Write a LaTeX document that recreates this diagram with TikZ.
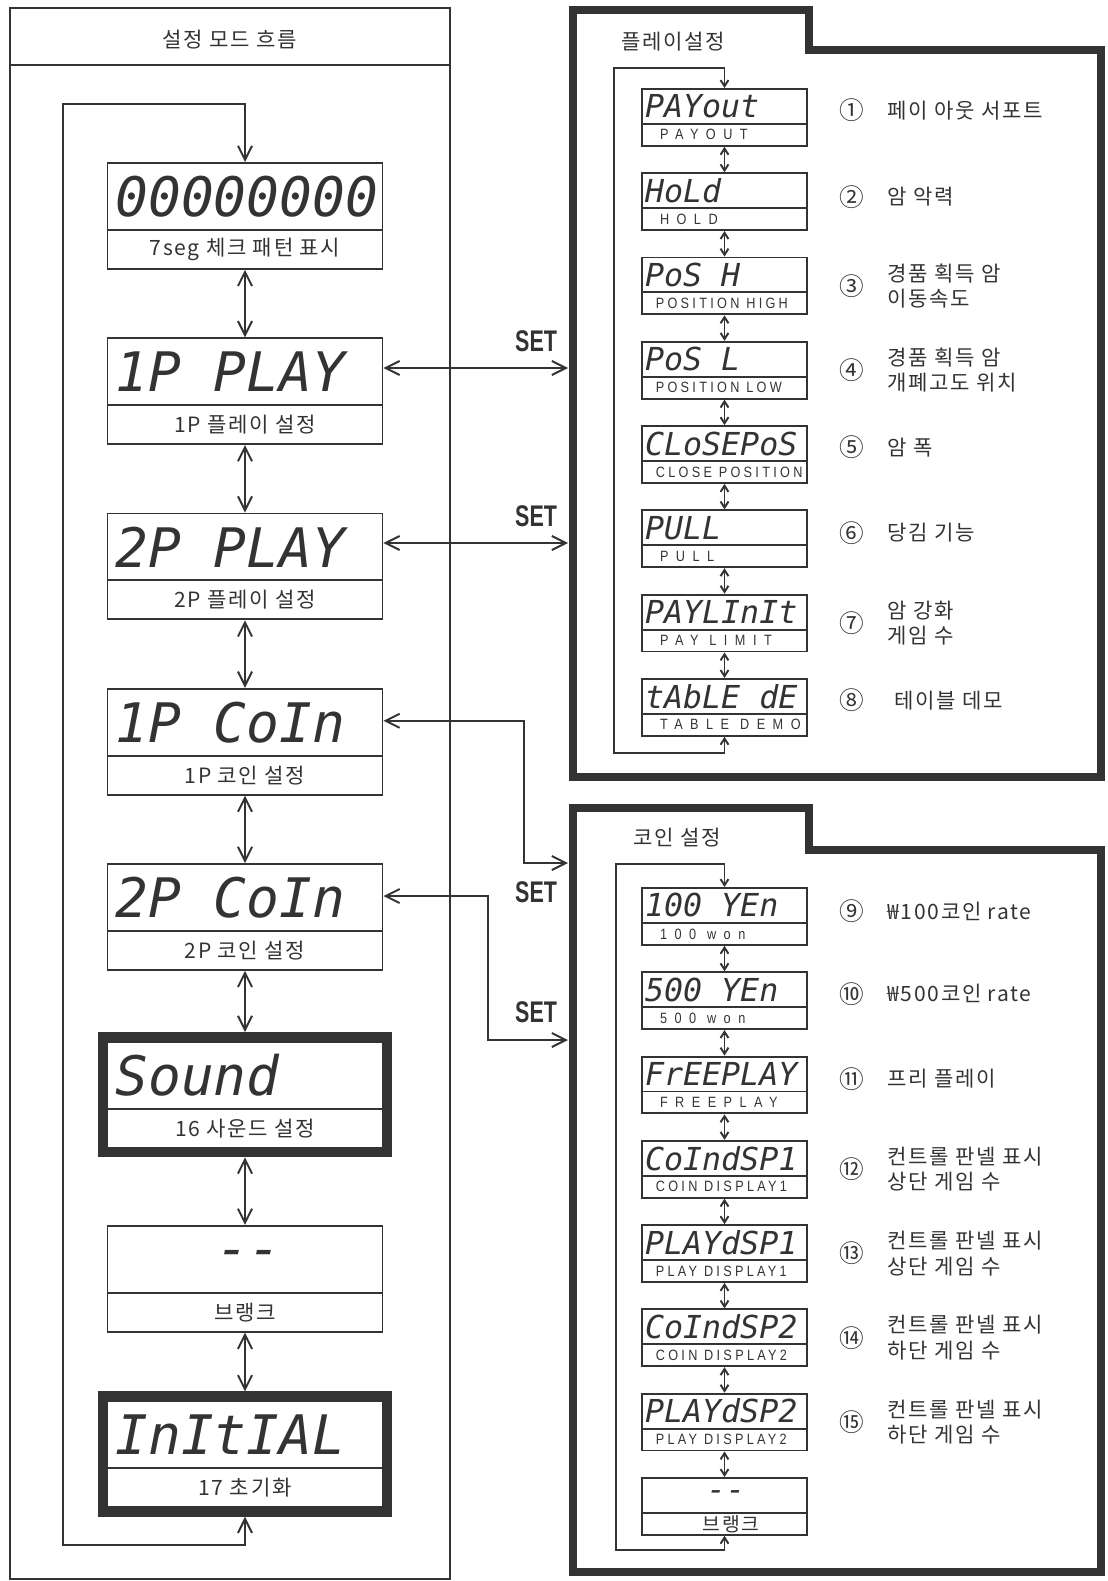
\documentclass[tikz,border=0pt]{standalone}
\usepackage{fontspec}
\usepackage{tikz}
\usetikzlibrary{arrows.meta}
\usetikzlibrary{positioning}
\usetikzlibrary{shapes.multipart}
\usetikzlibrary{fit}
\newfontfamily\kr[LetterSpace=8]{Noto Sans CJK KR}
\newfontfamily\segfont{DejaVu Sans Mono}
\newfontfamily\capfont[LetterSpace=22,FakeStretch=0.85]{Liberation Sans}
\newfontfamily\capwide[LetterSpace=50,FakeStretch=0.85]{Liberation Sans}
\newfontfamily\setfont[FakeStretch=0.72]{Liberation Sans}
\definecolor{ink}{gray}{0.2}
% display parts: big and small
\newcommand\lcd[1]{\parbox[c][1.30cm][c]{5.5cm}{\hspace*{0.16cm}\segfont\itshape\fontsize{31}{31}\selectfont #1}}
\newcommand\lbl[1]{\parbox[c][0.74cm][c]{5.5cm}{\centering\kr\fontsize{12}{14}\selectfont #1}}
\newcommand\slcd[1]{\parbox[c][0.66cm][c]{3.3cm}{\hspace*{0.06cm}\segfont\itshape\fontsize{18}{18}\selectfont #1}}
\newcommand\slbl[2][\capfont]{\parbox[c][0.40cm][c]{3.3cm}{\hspace*{0.14cm}\fontsize{8.5}{9}\selectfont#1 #2}}
\tikzset{
  every picture/.style={font={\kr\fontsize{12}{14.5}\selectfont}, color=ink, line width=1.1pt,
    >={Straight Barb[length=8pt,width=8pt]}}}

\begin{document}
\begin{tikzpicture}[x=0.02cm, y=-0.02cm, node distance=1.35cm,
    disp/.style={draw, rectangle split, rectangle split parts=2, inner sep=0pt},
    hot/.style={draw, line width=5pt, inner sep=2.5pt},
    panel/.style={draw, line width=4.5pt, line join=miter},
    num/.style={inner sep=0pt, font=\kr\fontsize{14}{14}\selectfont},
    note/.style={inner sep=0pt, align=left},
    setlbl/.style={inner sep=0pt, font=\setfont\bfseries\fontsize{17}{17}\selectfont}]

    \useasboundingbox (0,0) rectangle (1107,1581);

    % main flow
    \draw (10,8) rectangle (450,1579);
    \draw (10,65) -- (450,65);
    \node (mode) at (230,40) {설정 모드 흐름};

    \node[disp, anchor=north] (chk) at (245,162) {\lcd{00000000}\nodepart{two}\lbl{7seg 체크 패턴 표시}};
    \node[disp, below=of chk] (p1play) {\lcd{1P PLAY}\nodepart{two}\lbl{1P 플레이 설정}};
    \node[disp, below=of p1play] (p2play) {\lcd{2P PLAY}\nodepart{two}\lbl{2P 플레이 설정}};
    \node[disp, below=of p2play] (p1coin) {\lcd{1P CoIn}\nodepart{two}\lbl{1P 코인 설정}};
    \node[disp, below=of p1coin] (p2coin) {\lcd{2P CoIn}\nodepart{two}\lbl{2P 코인 설정}};
    \node[disp, below=1.4cm of p2coin] (sndbox) {\lcd{Sound}\nodepart{two}\lbl{16 사운드 설정}};
    \node[hot, fit=(sndbox)] (snd) {};
    \node[disp, below=of snd] (blank) {\lcd{\hfill-{}-\hfill\mbox{}}\nodepart{two}\lbl{브랭크}};
    \node[disp, below=of blank] (initbox) {\lcd{InItIAL}\nodepart{two}\lbl{17 초기화}};
    \node[hot, fit=(initbox)] (init) {};

    \path[<->] (chk) edge (p1play);
    \path[<->] (p1play) edge (p2play);
    \path[<->] (p2play) edge (p1coin);
    \path[<->] (p1coin) edge (p2coin);
    \path[<->] (p2coin) edge (snd);
    \path[<->] (snd) edge (blank);
    \path[<->] (blank) edge (init);

    \coordinate (mainT) at (63,104);
    \coordinate (mainB) at (63,1545);
    \draw[<->] (init.south) |- (mainB) -- (mainT) -| (chk.north);

    % SET links
    \coordinate (set1) at (568,368);
    \coordinate (set2) at (568,543);
    \coordinate (set3) at (568,863);
    \coordinate (set4) at (568,1040);
    \coordinate (c1bend) at (524,863);
    \coordinate (c2bend) at (488,1040);
    \draw[<->] (p1play.east |- set1) -- (set1);
    \draw[<->] (p2play.east |- set2) -- (set2);
    \draw[<->] ([yshift=-0.66cm]p1coin.north east) -| (c1bend) -- (set3);
    \draw[<->] ([yshift=-0.66cm]p2coin.north east) -| (c2bend) -- (set4);
    \node[setlbl, above left=0.3cm and 0.2cm of set1] (s1) {SET};
    \node[setlbl, above left=0.3cm and 0.2cm of set2] (s2) {SET};
    \node[setlbl, below left=0.36cm and 0.2cm of set3] (s3) {SET};
    \node[setlbl, above left=0.32cm and 0.2cm of set4] (s4) {SET};

    % play settings
    \draw[panel] (573,10) -- (809,10) -- (809,50) -- (1101,50) -- (1101,777) -- (573,777) -- cycle;
    \node (playttl) at (673,42) {플레이설정};

    \begin{scope}[node distance=0.51cm, >={Straight Barb[length=3.5pt,width=4.5pt]}]
      \node[disp, anchor=north] (payout) at (724.5,88) {\slcd{PAYout}\nodepart{two}\slbl[\capwide]{PAYOUT}};
      \node[disp, below=of payout] (hold) {\slcd{HoLd}\nodepart{two}\slbl[\capwide]{HOLD}};
      \node[disp, below=of hold] (posh) {\slcd{PoS H}\nodepart{two}\slbl{POSITION HIGH}};
      \node[disp, below=of posh] (posl) {\slcd{PoS L}\nodepart{two}\slbl{POSITION LOW}};
      \node[disp, below=of posl] (closepos) {\slcd{CLoSEPoS}\nodepart{two}\slbl{CLOSE POSITION}};
      \node[disp, below=of closepos] (pull) {\slcd{PULL}\nodepart{two}\slbl[\capwide]{PULL}};
      \node[disp, below=of pull] (paylimit) {\slcd{PAYLInIt}\nodepart{two}\slbl[\capwide]{PAY LIMIT}};
      \node[disp, below=of paylimit] (tabledemo) {\slcd{tAbLE dE}\nodepart{two}\slbl[\capwide]{TABLE DEMO}};

      \path[<->] (payout) edge (hold);
      \path[<->] (hold) edge (posh);
      \path[<->] (posh) edge (posl);
      \path[<->] (posl) edge (closepos);
      \path[<->] (closepos) edge (pull);
      \path[<->] (pull) edge (paylimit);
      \path[<->] (paylimit) edge (tabledemo);

      \coordinate (playT) at (614,68);
      \coordinate (playB) at (614,753);
      \draw[<->] (tabledemo.south) |- (playB) -- (playT) -| (payout.north);
    \end{scope}

    \node[num, right=0.62cm of payout.east, yshift=0.14cm] (n1) {①};
    \node[note, right=0.42cm of n1] (t1) {페이 아웃 서포트};
    \node[num, right=0.62cm of hold.east, yshift=0.1cm] (n2) {②};
    \node[note, right=0.42cm of n2] (t2) {암 악력};
    \node[num, right=0.62cm of posh.east] (n3) {③};
    \node[note, right=0.42cm of n3] (t3) {경품 획득 암\\이동속도};
    \node[num, right=0.62cm of posl.east] (n4) {④};
    \node[note, right=0.42cm of n4] (t4) {경품 획득 암\\개폐고도 위치};
    \node[num, right=0.62cm of closepos.east, yshift=0.14cm] (n5) {⑤};
    \node[note, right=0.42cm of n5] (t5) {암 폭};
    \node[num, right=0.62cm of pull.east, yshift=0.12cm] (n6) {⑥};
    \node[note, right=0.42cm of n6] (t6) {당김 기능};
    \node[num, right=0.62cm of paylimit.east] (n7) {⑦};
    \node[note, right=0.42cm of n7] (t7) {암 강화\\게임 수};
    \node[num, right=0.62cm of tabledemo.east, yshift=0.14cm] (n8) {⑧};
    \node[note, right=0.56cm of n8] (t8) {테이블 데모};

    % coin settings
    \draw[panel] (573,808) -- (809,808) -- (809,850) -- (1101,850) -- (1101,1572) -- (573,1572) -- cycle;
    \node (cointtl) at (677,838) {코인 설정};

    \begin{scope}[node distance=0.51cm, >={Straight Barb[length=3.5pt,width=4.5pt]}]
      \node[disp, anchor=north] (yen1) at (724.5,887) {\slcd{100 YEn}\nodepart{two}\slbl[\capwide]{100 won}};
      \node[disp, below=of yen1] (yen5) {\slcd{500 YEn}\nodepart{two}\slbl[\capwide]{500 won}};
      \node[disp, below=of yen5] (freeplay) {\slcd{FrEEPLAY}\nodepart{two}\slbl[\capwide]{FREEPLAY}};
      \node[disp, below=of freeplay] (coindsp1) {\slcd{CoIndSP1}\nodepart{two}\slbl{COIN DISPLAY1}};
      \node[disp, below=of coindsp1] (playdsp1) {\slcd{PLAYdSP1}\nodepart{two}\slbl{PLAY DISPLAY1}};
      \node[disp, below=of playdsp1] (coindsp2) {\slcd{CoIndSP2}\nodepart{two}\slbl{COIN DISPLAY2}};
      \node[disp, below=of coindsp2] (playdsp2) {\slcd{PLAYdSP2}\nodepart{two}\slbl{PLAY DISPLAY2}};
      \node[disp, below=of playdsp2] (coinblank) {\slcd{\hfill-{}-\hfill\mbox{}}\nodepart{two}\slbl[\kr\fontsize{11}{11}\selectfont\centering]{브랭크}};

      \path[<->] (yen1) edge (yen5);
      \path[<->] (yen5) edge (freeplay);
      \path[<->] (freeplay) edge (coindsp1);
      \path[<->] (coindsp1) edge (playdsp1);
      \path[<->] (playdsp1) edge (coindsp2);
      \path[<->] (coindsp2) edge (playdsp2);
      \path[<->] (playdsp2) edge (coinblank);

      \coordinate (coinT) at (616,864);
      \coordinate (coinB) at (616,1550);
      \draw[<->] (coinblank.south) |- (coinB) -- (coinT) -| (yen1.north);
    \end{scope}

    \node[num, right=0.62cm of yen1.east, yshift=0.1cm] (n9) {⑨};
    \node[note, right=0.42cm of n9] (t9) {₩100코인 rate};
    \node[num, right=0.62cm of yen5.east, yshift=0.14cm] (n10) {⑩};
    \node[note, right=0.42cm of n10] (t10) {₩500코인 rate};
    \node[num, right=0.62cm of freeplay.east, yshift=0.12cm] (n11) {⑪};
    \node[note, right=0.42cm of n11] (t11) {프리 플레이};
    \node[num, right=0.62cm of coindsp1.east] (n12) {⑫};
    \node[note, right=0.42cm of n12] (t12) {컨트롤 판넬 표시\\상단 게임 수};
    \node[num, right=0.62cm of playdsp1.east] (n13) {⑬};
    \node[note, right=0.42cm of n13] (t13) {컨트롤 판넬 표시\\상단 게임 수};
    \node[num, right=0.62cm of coindsp2.east] (n14) {⑭};
    \node[note, right=0.42cm of n14] (t14) {컨트롤 판넬 표시\\하단 게임 수};
    \node[num, right=0.62cm of playdsp2.east] (n15) {⑮};
    \node[note, right=0.42cm of n15] (t15) {컨트롤 판넬 표시\\하단 게임 수};
\end{tikzpicture}
\end{document}
